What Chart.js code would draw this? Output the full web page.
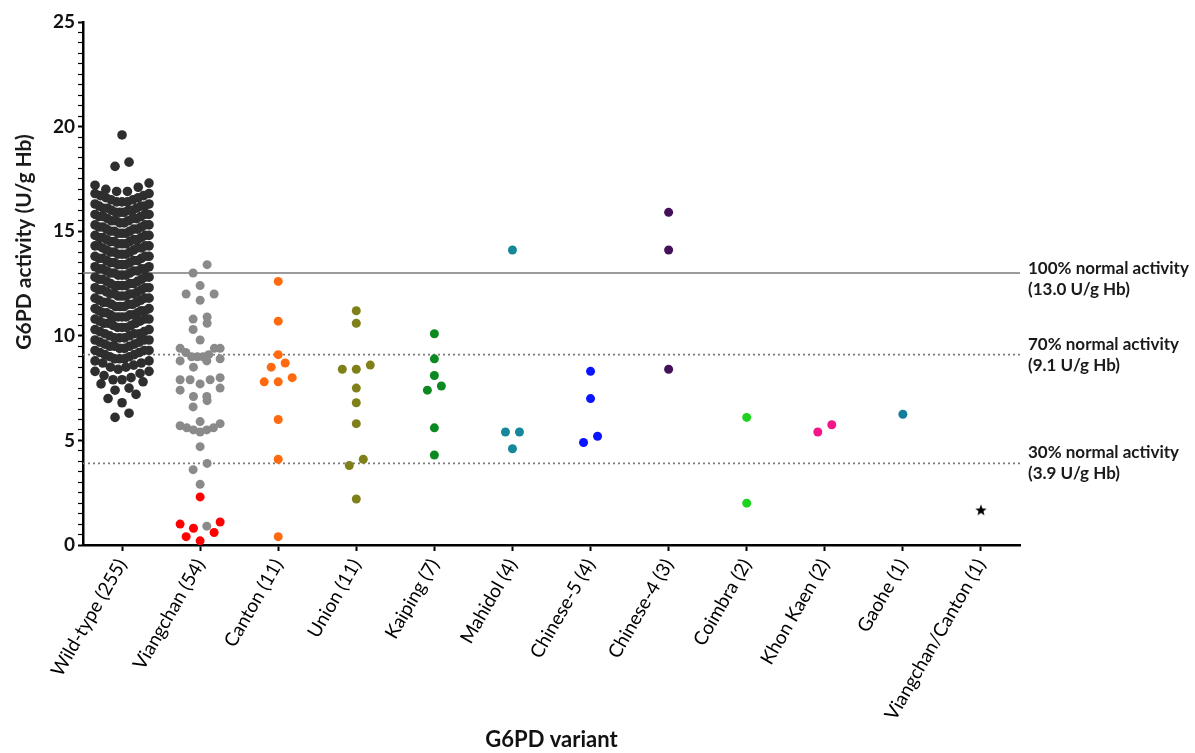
<!DOCTYPE html>
<html>
<head>
<meta charset="utf-8">
<script src="https://cdn.jsdelivr.net/npm/chart.js@4"></script>
<style>
  html, body { margin: 0; padding: 0; background: #fff; }
  #wrap { width: 1195px; height: 753px; }
</style>
</head>
<body>
<div id="wrap"><canvas id="myChart"></canvas></div>
<script>
const variants = [
  'Wild-type (255)', 'Viangchan (54)', 'Canton (11)', 'Union (11)', 'Kaiping (7)',
  'Mahidol (4)', 'Chinese-5 (4)', 'Chinese-4 (3)', 'Coimbra (2)', 'Khon Kaen (2)',
  'Gaohe (1)', 'Viangchan/Canton (1)'
];

// G6PD activity (U/g Hb)
const wildType = [
  6.1, 6.3, 6.8,
  7.0, 7.2, 7.4, 7.5, 7.7, 7.8, 7.9, 7.9,
  8.0, 8.1, 8.2, 8.3, 8.3, 8.4, 8.5, 8.5, 8.6, 8.7, 8.7, 8.8, 8.8, 8.9, 8.9, 8.9,
  9.0, 9.0, 9.1, 9.1, 9.2, 9.2, 9.3, 9.3, 9.3, 9.4, 9.4, 9.5, 9.5, 9.5, 9.6, 9.6, 9.7, 9.7, 9.8, 9.8, 9.8, 9.9, 9.9, 9.9,
  10.0, 10.0, 10.1, 10.1, 10.1, 10.2, 10.2, 10.3, 10.3, 10.4, 10.4, 10.4, 10.5, 10.5, 10.6, 10.6, 10.6, 10.7, 10.7, 10.8, 10.8, 10.8, 10.9, 10.9, 10.9, 10.9,
  11.0, 11.0, 11.0, 11.1, 11.1, 11.1, 11.2, 11.2, 11.2, 11.3, 11.3, 11.4, 11.4, 11.4, 11.5, 11.5, 11.5, 11.6, 11.6, 11.6, 11.7, 11.7, 11.8, 11.8, 11.8, 11.9, 11.9, 11.9,
  12.0, 12.0, 12.0, 12.0, 12.1, 12.1, 12.2, 12.2, 12.2, 12.3, 12.3, 12.3, 12.4, 12.4, 12.4, 12.4, 12.5, 12.5, 12.5, 12.6, 12.6, 12.7, 12.7, 12.7, 12.8, 12.8, 12.8, 12.9, 12.9, 12.9,
  13.0, 13.0, 13.0, 13.1, 13.1, 13.1, 13.2, 13.2, 13.2, 13.2, 13.3, 13.3, 13.4, 13.4, 13.4, 13.5, 13.5, 13.5, 13.6, 13.6, 13.6, 13.7, 13.7, 13.7, 13.8, 13.8, 13.8, 13.9, 13.9, 13.9,
  14.0, 14.0, 14.0, 14.1, 14.1, 14.2, 14.2, 14.2, 14.3, 14.3, 14.3, 14.3, 14.4, 14.4, 14.4, 14.5, 14.5, 14.5, 14.6, 14.6, 14.6, 14.7, 14.7, 14.7, 14.8, 14.8, 14.8, 14.9, 14.9, 14.9,
  15.0, 15.0, 15.0, 15.1, 15.1, 15.1, 15.2, 15.2, 15.2, 15.3, 15.3, 15.3, 15.4, 15.4, 15.5, 15.5, 15.5, 15.6, 15.6, 15.6, 15.7, 15.7, 15.7, 15.8, 15.8, 15.8, 15.9, 15.9, 15.9,
  16.0, 16.0, 16.0, 16.1, 16.1, 16.1, 16.2, 16.2, 16.2, 16.3, 16.3, 16.4, 16.4, 16.4, 16.5, 16.5, 16.6, 16.6, 16.7, 16.7, 16.8, 16.8, 16.9, 16.9,
  17.0, 17.1, 17.2, 17.3,
  18.1, 18.3,
  19.6
];
const viangchan = [
  13.4, 13.0, 12.4, 12.0, 12.0, 11.7, 10.9, 10.8, 10.6, 10.3, 9.8, 9.4, 9.4, 9.4,
  9.2, 9.1, 9.0, 9.0, 9.0, 8.9, 8.8, 8.8, 8.5, 8.0, 7.9, 7.9, 7.9, 7.7, 7.5, 7.4,
  7.1, 7.1, 6.9, 6.6, 5.9, 5.8, 5.7, 5.6, 5.6, 5.5, 5.5, 5.4, 4.7, 3.9, 3.6, 2.9, 0.9
];
const viangchanSevere = [2.3, 1.1, 1.0, 0.8, 0.6, 0.4, 0.2];
const canton = [12.6, 10.7, 9.1, 8.7, 8.5, 8.0, 7.8, 7.8, 6.0, 4.1, 0.4];
const union = [11.2, 10.6, 8.6, 8.4, 8.4, 7.5, 6.8, 5.8, 4.1, 3.8, 2.2];
const kaiping = [10.1, 8.9, 8.1, 7.6, 7.4, 5.6, 4.3];
const mahidol = [14.1, 5.4, 5.4, 4.6];
const chinese5 = [8.3, 7.0, 5.2, 4.9];
const chinese4 = [15.9, 14.1, 8.4];
const coimbra = [6.1, 2.0];
const khonKaen = [5.4, 5.75];
const gaohe = [6.25];
const viangchanCanton = [1.65];

const thresholds = [13.0, 9.1, 3.9];
const thresholdLabels = [
  ['100% normal activity', '(13.0 U/g Hb)'],
  ['70% normal activity', '(9.1 U/g Hb)'],
  ['30% normal activity', '(3.9 U/g Hb)']
];
const yMajorTicks = [0, 5, 10, 15, 20, 25];

const FONT = 'Lato, "Open Sans", sans-serif';
const PX_PER_CAT = (1195 - 83 - 175) / variants.length;

// GraphPad-like scatter: group close values into rows, spread each row sideways
function swarm(values, rowHeight, maxSpan) {
  const sorted = values.map((v, i) => ({ v, i })).sort((a, b) => a.v - b.v);
  const offsets = new Array(values.length).fill(0);
  let k = 0;
  while (k < sorted.length) {
    let j = k;
    while (j < sorted.length && sorted[j].v - sorted[k].v <= rowHeight) j++;
    const row = sorted.slice(k, j);
    const n = row.length;
    const step = n > 1 ? Math.min(14, maxSpan / (n - 1)) : 0;
    const slots = [];
    for (let s = 0; s < n; s++) slots.push((s - (n - 1) / 2) * step);
    slots.sort((a, b) => Math.abs(a) - Math.abs(b) || a - b);
    row.forEach((p, m) => { offsets[p.i] = slots[m] / PX_PER_CAT; });
    k = j;
  }
  return offsets;
}

function points(values, index, rowHeight, maxSpan) {
  const off = swarm(values, rowHeight, maxSpan);
  return values.map((v, i) => ({ x: index + off[i], y: v }));
}

function starImage(r, color) {
  const c = document.createElement('canvas');
  c.width = c.height = 2 * r + 2;
  const g = c.getContext('2d');
  g.fillStyle = color;
  g.beginPath();
  for (let k = 0; k < 10; k++) {
    const a = -Math.PI / 2 + k * Math.PI / 5;
    const rr = k % 2 ? r * 0.42 : r;
    g.lineTo(r + 1 + rr * Math.cos(a), r + 1 + rr * Math.sin(a));
  }
  g.closePath();
  g.fill();
  return c;
}

const viangchanAll = viangchan.concat(viangchanSevere);
const viangchanColors = viangchan.map(() => '#8a8a8a').concat(viangchanSevere.map(() => '#ff0000'));

function ds(label, data, color, radius) {
  return {
    label: label,
    data: data,
    backgroundColor: color,
    pointBackgroundColor: color,
    borderWidth: 0,
    pointRadius: radius || 4.5,
    pointHoverRadius: radius || 4.5
  };
}

const datasets = [
  ds(variants[0], points(wildType, 0, 0.42, 54), '#2e2e2e', 4.8),
  ds(variants[1], points(viangchanAll, 1, 0.45, 40), viangchanColors),
  ds(variants[2], points(canton, 2, 0.45, 40), '#ff6a10'),
  ds(variants[3], points(union, 3, 0.45, 40), '#80801a'),
  ds(variants[4], points(kaiping, 4, 0.45, 40), '#0c8a22'),
  ds(variants[5], points(mahidol, 5, 0.45, 40), '#15879a'),
  ds(variants[6], points(chinese5, 6, 0.45, 40), '#0a14ff'),
  ds(variants[7], points(chinese4, 7, 0.45, 40), '#45105a'),
  ds(variants[8], points(coimbra, 8, 0.45, 40), '#1fd21f'),
  ds(variants[9], points(khonKaen, 9, 0.45, 40), '#f5158a'),
  ds(variants[10], points(gaohe, 10, 0.45, 40), '#137d9c'),
  Object.assign(ds(variants[11], points(viangchanCanton, 11, 0.45, 40), '#000'),
    { pointStyle: starImage(6, '#000') })
];

const thresholdPlugin = {
  id: 'thresholds',
  beforeDatasetsDraw(chart) {
    const { ctx, chartArea, scales: { y } } = chart;
    thresholds.forEach((t, i) => {
      const py = y.getPixelForValue(t);
      ctx.save();
      ctx.strokeStyle = '#7a7a7a';
      ctx.lineWidth = 1.6;
      ctx.setLineDash(i === 0 ? [] : [2, 3]);
      ctx.beginPath();
      ctx.moveTo(chartArea.left, py);
      ctx.lineTo(chartArea.right, py);
      ctx.stroke();
      ctx.restore();
    });
  },
  afterDraw(chart) {
    const { ctx, chartArea, scales: { y } } = chart;
    const shift = [-5, -10, -11];
    ctx.save();
    ctx.fillStyle = '#1a1a1a';
    ctx.font = 'bold 17px ' + FONT;
    ctx.textAlign = 'left';
    ctx.textBaseline = 'middle';
    thresholds.forEach((t, i) => {
      const py = y.getPixelForValue(t) + shift[i];
      ctx.fillText(thresholdLabels[i][0], chartArea.right + 8, py);
      ctx.fillText(thresholdLabels[i][1], chartArea.right + 8, py + 21);
    });
    // y axis title
    ctx.translate(24, 242);
    ctx.rotate(-Math.PI / 2);
    ctx.textAlign = 'center';
    ctx.font = 'bold 21px ' + FONT;
    ctx.fillText('G6PD activity (U/g Hb)', 0, 0);
    ctx.restore();
  }
};

const config = {
  type: 'scatter',
  data: { datasets: datasets },
  options: {
    responsive: true,
    maintainAspectRatio: false,
    animation: false,
    layout: { padding: { top: 22, right: 175, bottom: 0, left: 0 } },
    plugins: {
      legend: { display: false },
      tooltip: { enabled: false }
    },
    scales: {
      x: {
        type: 'linear',
        min: -0.5,
        max: variants.length - 0.5,
        afterBuildTicks: (s) => { s.ticks = variants.map((_, i) => ({ value: i })); },
        afterFit: (s) => { s.height = 753 - 545; },
        ticks: {
          autoSkip: false,
          minRotation: 60,
          maxRotation: 60,
          padding: 4,
          color: '#000',
          font: { family: FONT, size: 19 },
          callback: (v, i) => variants[i]
        },
        grid: { drawOnChartArea: false, tickLength: 6, tickColor: '#000', tickWidth: 2 },
        border: { color: '#000', width: 2.5 },
        title: {
          display: true,
          text: 'G6PD variant',
          color: '#111',
          font: { family: FONT, size: 22, weight: 'bold' },
          padding: { top: 0, bottom: 0 }
        }
      },
      y: {
        min: 0,
        max: 25,
        afterFit: (s) => { s.width = 83; },
        ticks: {
          stepSize: 0.5,
          autoSkip: false,
          padding: 3,
          color: '#111',
          font: { family: FONT, size: 19, weight: 'bold' },
          callback: (v) => yMajorTicks.includes(v) ? v : ''
        },
        grid: {
          drawOnChartArea: false,
          tickLength: 5,
          tickColor: '#000',
          tickWidth: (c) => yMajorTicks.includes(c.tick && c.tick.value) ? 2 : 1.2
        },
        border: { color: '#000', width: 2.5 }
      }
    }
  },
  plugins: [thresholdPlugin]
};

const myChart = new Chart(document.getElementById('myChart'), config);
</script>
</body>
</html>
